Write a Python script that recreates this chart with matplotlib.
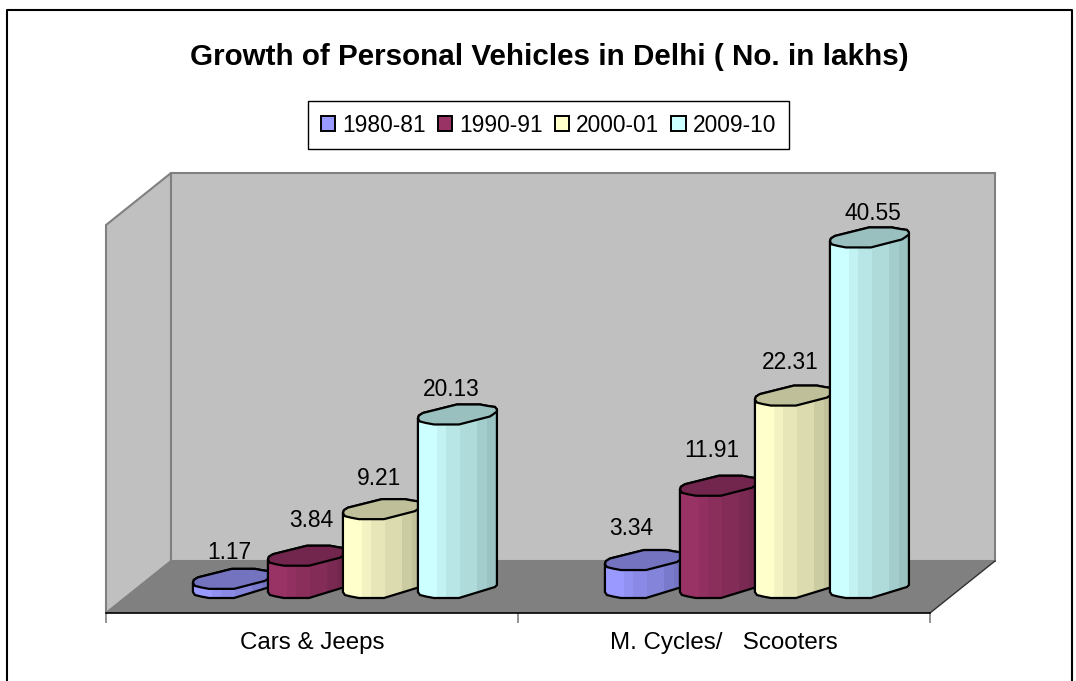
import matplotlib
matplotlib.use("Agg")
import matplotlib.pyplot as plt
from matplotlib.patches import Polygon, Rectangle, Patch

plt.rcParams['font.family'] = ['Liberation Sans', 'DejaVu Sans']

title = "Growth of Personal Vehicles in Delhi ( No. in lakhs)"
categories = ["Cars & Jeeps", "M. Cycles/   Scooters"]
years = ["1980-81", "1990-91", "2000-01", "2009-10"]
cars = [1.17, 3.84, 9.21, 20.13]
cycles = [3.34, 11.91, 22.31, 40.55]
colors = ["#9999FF", "#993366", "#FFFFCC", "#CCFFFF"]

# pixel scale of the value axis
px_cat = 412.0
px_val = 8.67
bar_w = 79
step = 75 / px_cat

# rough outline of the bar top, pixels from the left point
top_back = [(0, 0), (1, 3), (5, 5.5), (39, 14), (62, 14), (70, 12.5), (77, 11.5), (79, 9), (79, 7)]
top_front = [(75, 4), (72, 2), (41, -6), (16, -6), (8, -4.5), (2, -3), (0, 0)]
bottom = [(79, 8), (77, 6), (41, -5), (16, -5), (8, -3.5), (2, -2), (0, 1)]
strips = [(0.0, 0.24, 1.0), (0.24, 0.36, 0.95), (0.36, 0.53, 0.9),
          (0.53, 0.75, 0.86), (0.75, 0.87, 0.8), (0.87, 1.01, 0.76)]


def shade(c, f):
    r, g, b = matplotlib.colors.to_rgb(c)
    return (r * f, g * f, b * f)


fig = plt.figure(figsize=(10.76, 6.81), dpi=100, facecolor='white')

# wall, floor and frame, in pixels
bg = fig.add_axes([0, 0, 1, 1])
bg.set_xlim(0, 1076)
bg.set_ylim(681, 0)
bg.axis('off')
bg.plot([6.5, 6.5, 1072, 1072], [681, 10, 10, 681], color='black', lw=1.5)
bg.add_patch(Polygon([(106, 225), (171, 173), (171, 561), (106, 613)], fc='#C0C0C0', ec='#808080', lw=1.5))
bg.add_patch(Polygon([(171, 173), (995, 173), (995, 561), (171, 561)], fc='#C0C0C0', ec='#808080', lw=1.5))
bg.add_patch(Polygon([(106, 613), (171, 561), (995, 561), (930, 613)], fc='#808080', ec='none'))
bg.plot([930, 995], [613, 561], color='#303030', lw=1)

# data axes: x 0-2 over the two groups, y in lakhs
ax = fig.add_axes([106 / 1076, 1 - 613 / 681, 824 / 1076, 440 / 681])
ax.set_xlim(0, 2)
ax.set_ylim(-20 / px_val, 420 / px_val)
ax.patch.set_alpha(0)
for s in ['top', 'left', 'right']:
    ax.spines[s].set_visible(False)
ax.spines['bottom'].set_linewidth(1.2)
ax.yaxis.set_visible(False)
ax.set_xticks([0.5, 1.5])
ax.set_xticklabels(categories, fontsize=17.4)
ax.set_xticks([0, 1, 2], minor=True)
ax.tick_params(axis='x', which='major', length=0, pad=14)
ax.tick_params(axis='x', which='minor', length=7, color='#808080', width=1.2)


def draw_bar(x, v, color, z):
    def pt(dx, dy, base):
        return (x + dx / px_cat, base + dy / px_val)
    outline = [pt(dx, dy, v) for dx, dy in top_back] + [pt(dx, dy, 0) for dx, dy in bottom]
    body = Polygon(outline, closed=True, fc=color, ec='none', zorder=z)
    ax.add_patch(body)
    for a, b, f in strips:
        r = Rectangle((x + a * bar_w / px_cat, -5), (b - a) * bar_w / px_cat, v + 10,
                      fc=shade(color, f), ec='none', zorder=z)
        ax.add_patch(r)
        r.set_clip_path(body)
    ax.add_patch(Polygon(outline, closed=True, fc='none', ec='black', lw=1.6, zorder=z, clip_on=False))
    cap = [pt(dx, dy, v) for dx, dy in top_back + top_front]
    ax.add_patch(Polygon(cap, closed=True, fc=shade(color, 0.75), ec='black', lw=1.6, zorder=z, clip_on=False))


label_dx = [[36, 43, 36, 33], [26, 32, 35, 43]]
label_dy = [[30, 39, 35, 29], [36, 39, 37, 28]]
for g, vals in enumerate([cars, cycles]):
    for i, v in enumerate(vals):
        x = g + 0.211 + i * step
        draw_bar(x, v, colors[i], 3 + i)
        ax.text(x + label_dx[g][i] / px_cat, v + label_dy[g][i] / px_val, f"{v:.2f}", ha='center', va='center',
                fontsize=16.4, color='black', zorder=10)

fig.text(549 / 1076, 1 - 57 / 681, title, ha='center', va='center', fontsize=21.3, fontweight='bold')

handles = [Patch(fc=c, ec='black', lw=1.4) for c in colors]
fig.legend(handles, years, loc='center', bbox_to_anchor=(548.5 / 1076, 1 - 125 / 681), ncol=4,
           fontsize=16.4, fancybox=False, framealpha=1, edgecolor='black', handlelength=0.62,
           handleheight=0.62, handletextpad=0.33, columnspacing=0.52, borderpad=0.55, borderaxespad=0)

fig.savefig("out.png", dpi=100)
